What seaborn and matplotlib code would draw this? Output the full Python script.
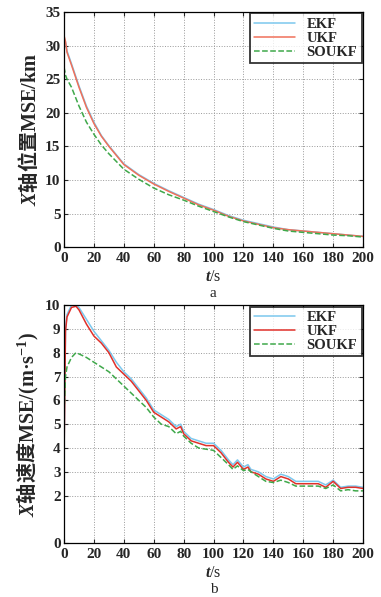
import matplotlib.pyplot as plt
import seaborn as sns
import numpy as np

sns.set_style('ticks')
plt.rcParams['font.family'] = ['Liberation Serif', 'Noto Sans CJK SC', 'DejaVu Sans']
plt.rcParams['mathtext.fontset'] = 'custom'
plt.rcParams['mathtext.rm'] = 'Liberation Serif:bold'
plt.rcParams['mathtext.it'] = 'Liberation Serif:italic:bold'
plt.rcParams['mathtext.bf'] = 'Liberation Serif:bold'
plt.rcParams['mathtext.sf'] = 'Noto Sans CJK SC:bold'

# ---------- 图 a: X 轴位置 MSE ----------
t_a = [0, 1, 2, 5, 10, 15, 20, 25, 30, 40, 50, 60, 70, 80, 90, 100,
       110, 120, 130, 140, 150, 160, 170, 180, 190, 200]
ekf_a = [31.2, 30.5, 29.2, 27.3, 24.0, 21.0, 18.6, 16.6, 15.1, 12.4, 10.8,
         9.5, 8.4, 7.4, 6.4, 5.6, 4.7, 4.0, 3.5, 3.0, 2.6, 2.4, 2.2, 2.0, 1.8, 1.6]
ukf_a = [31.5, 30.6, 29.0, 27.1, 23.8, 20.8, 18.4, 16.5, 15.0, 12.3, 10.7,
         9.4, 8.3, 7.3, 6.3, 5.5, 4.6, 3.9, 3.4, 2.9, 2.6, 2.4, 2.2, 2.0, 1.8, 1.6]
soukf_a = [26.8, 25.6, 25.0, 23.8, 21.0, 18.6, 16.8, 15.2, 13.9, 11.6, 10.1,
           8.8, 7.8, 7.0, 6.1, 5.3, 4.5, 3.8, 3.3, 2.8, 2.4, 2.2, 2.0, 1.8, 1.7, 1.5]

# ---------- 图 b: X 轴速度 MSE ----------
t_b = [0, 1, 2, 5, 8, 10, 15, 20, 25, 30, 35, 40, 45, 50, 55, 60, 65, 70,
       75, 78, 80, 85, 90, 95, 100, 105, 110, 113, 116, 120, 123, 125, 130,
       135, 140, 145, 150, 155, 160, 165, 170, 175, 180, 185, 190, 195, 200]
ekf_b = [3.6, 9.0, 9.6, 10.0, 10.0, 9.9, 9.4, 8.9, 8.5, 8.1, 7.6, 7.2, 6.9,
         6.5, 6.1, 5.6, 5.4, 5.2, 4.9, 5.0, 4.7, 4.4, 4.3, 4.2, 4.2, 3.9, 3.5,
         3.3, 3.5, 3.2, 3.3, 3.1, 3.0, 2.8, 2.7, 2.9, 2.8, 2.6, 2.6, 2.6, 2.6,
         2.45, 2.65, 2.35, 2.4, 2.4, 2.35]
ukf_b = [3.5, 8.9, 9.5, 9.9, 9.95, 9.8, 9.2, 8.7, 8.4, 8.0, 7.4, 7.1, 6.8,
         6.4, 6.0, 5.5, 5.3, 5.1, 4.8, 4.9, 4.6, 4.3, 4.2, 4.1, 4.1, 3.8, 3.4,
         3.2, 3.4, 3.1, 3.2, 3.0, 2.9, 2.7, 2.6, 2.8, 2.7, 2.5, 2.5, 2.5, 2.5,
         2.35, 2.6, 2.3, 2.35, 2.35, 2.3]
soukf_b = [5.5, 7.0, 7.4, 7.8, 8.0, 7.95, 7.8, 7.6, 7.4, 7.2, 6.9, 6.6, 6.3,
           6.0, 5.7, 5.3, 5.0, 4.9, 4.6, 4.7, 4.5, 4.2, 4.0, 3.95, 3.9, 3.6,
           3.3, 3.1, 3.25, 3.05, 3.1, 3.0, 2.8, 2.6, 2.55, 2.65, 2.55, 2.4,
           2.4, 2.4, 2.4, 2.3, 2.45, 2.2, 2.25, 2.2, 2.2]

labels = ['EKF', 'UKF', 'SOUKF']
colors_a = ['#7cc8ee', '#f0705a', '#3fa84a']
colors_b = ['#7cc8ee', '#e0302a', '#3fa84a']
styles = ['-', '-', '--']

fig = plt.figure(figsize=(3.81, 5.97), dpi=100)
ax1 = fig.add_axes([0.168, 0.586, 0.785, 0.394])
ax2 = fig.add_axes([0.168, 0.090, 0.785, 0.399])


def draw(ax, t, series, colors):
    for y, lab, c, ls in zip(series, labels, colors, styles):
        sns.lineplot(x=t, y=y, ax=ax, color=c, linestyle=ls, linewidth=1.1,
                     label=lab)
    ax.set_xlim(0, 200)
    ax.set_xticks(np.arange(0, 201, 20))
    ax.grid(True, linestyle=':', color='#999999', linewidth=0.7)
    ax.tick_params(direction='in', top=True, right=True, labelsize=11,
                   length=3)
    ax.tick_params(axis='x', pad=3.5)
    ax.tick_params(axis='y', pad=2.5)
    for lab in ax.get_xticklabels() + ax.get_yticklabels():
        lab.set_fontweight('bold')
    for s in ax.spines.values():
        s.set_color('black')
        s.set_linewidth(0.9)
    leg = ax.legend(loc='upper right', prop={'size': 10.5, 'weight': 'bold'},
                    frameon=True, fancybox=False, handlelength=2.8,
                    borderpad=0.3, labelspacing=0.05, borderaxespad=0.1,
                    handletextpad=0.8)
    leg.get_frame().set_edgecolor('black')
    leg.get_frame().set_linewidth(1.3)
    ax.set_xlabel('$t$/s', fontsize=11.5, labelpad=3)


draw(ax1, t_a, [ekf_a, ukf_a, soukf_a], colors_a)
ax1.set_ylim(0, 35)
ax1.set_yticks(np.arange(0, 36, 5))
ax1.set_ylabel(r'$X\mathsf{轴位置}$MSE/km', fontsize=14.5,
               fontweight='bold', labelpad=3)

draw(ax2, t_b, [ekf_b, ukf_b, soukf_b], colors_b)
ax2.set_ylim(0, 10)
ax2.set_yticks([0, 2, 3, 4, 5, 6, 7, 8, 9, 10])
ax2.set_ylabel(r'$X\mathsf{轴速度}$MSE/(m·s$^{-1}$)', fontsize=14.5,
               fontweight='bold', labelpad=3)

fig.text(0.56, 0.503, 'a', ha='center', fontsize=11)
fig.text(0.56, 0.006, 'b', ha='center', fontsize=11)

fig.savefig('out.png', dpi=100, facecolor='white')
